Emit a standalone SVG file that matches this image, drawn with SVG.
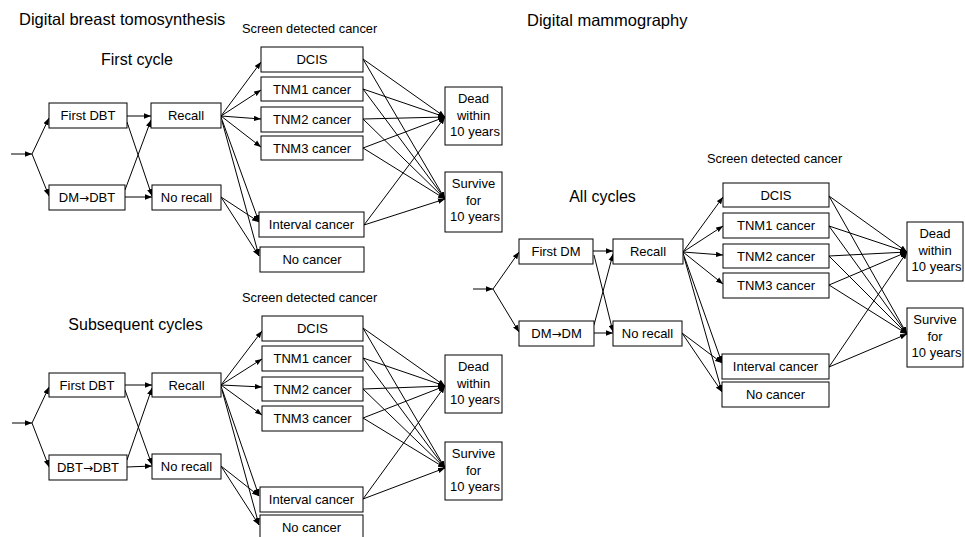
<svg xmlns="http://www.w3.org/2000/svg" width="965" height="537" viewBox="0 0 965 537">
<defs>
<style>
text{font-family:"Liberation Sans",Arial,sans-serif;fill:#000}
.t{font-size:16.5px}
.s{font-size:16px;text-anchor:middle}
.h{font-size:12.8px}
.b{font-size:13px;text-anchor:middle}
.ar{font-family:"DejaVu Sans",sans-serif;font-size:12px}
rect{fill:#fff;stroke:#000;stroke-width:1}
.c line{stroke:#000;stroke-width:1;marker-end:url(#ah)}
</style>
<marker id="ah" markerWidth="8" markerHeight="6" refX="7" refY="3" orient="auto" markerUnits="userSpaceOnUse"><path d="M0,0.3 L7,3 L0,5.7 z" fill="#000"/></marker>
</defs>
<rect x="0" y="0" width="965" height="537" style="stroke:none"/>

<text class="t" x="19" y="25">Digital breast tomosynthesis</text>
<text class="t" x="527" y="26">Digital mammography</text>
<text class="s" x="137" y="65">First cycle</text>
<text class="s" x="135.5" y="330">Subsequent cycles</text>
<text class="s" x="602.5" y="202">All cycles</text>
<text class="h" x="242" y="33">Screen detected cancer</text>
<text class="h" x="242" y="302">Screen detected cancer</text>
<text class="h" x="707" y="163">Screen detected cancer</text>

<g class="c" id="connectors">
<!-- Panel A -->
<line x1="11" y1="154" x2="32" y2="154"/>
<line x1="32" y1="154" x2="49" y2="118"/>
<line x1="32" y1="154" x2="49" y2="196"/>
<line x1="127" y1="116" x2="151" y2="116"/>
<line x1="127" y1="122" x2="152" y2="196"/>
<line x1="125" y1="190" x2="151" y2="120"/>
<line x1="125" y1="197" x2="152" y2="197"/>
<line x1="221" y1="116" x2="261" y2="62"/>
<line x1="221" y1="116" x2="261" y2="90"/>
<line x1="221" y1="116" x2="261" y2="119"/>
<line x1="221" y1="116" x2="261" y2="147"/>
<line x1="221" y1="117" x2="259" y2="222"/>
<line x1="222" y1="121" x2="259" y2="256"/>
<line x1="221" y1="197" x2="259" y2="222"/>
<line x1="221" y1="197" x2="259" y2="256"/>
<line x1="363" y1="59" x2="445" y2="117"/>
<line x1="363" y1="59" x2="445" y2="199"/>
<line x1="363" y1="89" x2="445" y2="117"/>
<line x1="363" y1="89" x2="445" y2="199"/>
<line x1="363" y1="119" x2="445" y2="117"/>
<line x1="363" y1="119" x2="445" y2="199"/>
<line x1="363" y1="148" x2="445" y2="117"/>
<line x1="363" y1="148" x2="445" y2="199"/>
<line x1="364" y1="225" x2="445" y2="117"/>
<line x1="364" y1="225" x2="445" y2="199"/>
<!-- Panel B -->
<line x1="12" y1="423" x2="32" y2="423"/>
<line x1="32" y1="423" x2="49" y2="387"/>
<line x1="32" y1="423" x2="49" y2="467"/>
<line x1="125" y1="385" x2="152" y2="385"/>
<line x1="125" y1="390" x2="152" y2="465"/>
<line x1="127" y1="460" x2="152" y2="388"/>
<line x1="127" y1="467" x2="152" y2="466"/>
<line x1="221" y1="385" x2="262" y2="331"/>
<line x1="221" y1="385" x2="262" y2="359"/>
<line x1="221" y1="385" x2="262" y2="387"/>
<line x1="221" y1="385" x2="262" y2="415"/>
<line x1="221" y1="386" x2="259" y2="496"/>
<line x1="222" y1="390" x2="259" y2="525"/>
<line x1="221" y1="466" x2="259" y2="496"/>
<line x1="221" y1="466" x2="259" y2="525"/>
<line x1="363" y1="328" x2="445" y2="386"/>
<line x1="363" y1="328" x2="445" y2="468"/>
<line x1="363" y1="358" x2="445" y2="386"/>
<line x1="363" y1="358" x2="445" y2="468"/>
<line x1="363" y1="389" x2="445" y2="386"/>
<line x1="363" y1="389" x2="445" y2="468"/>
<line x1="363" y1="418" x2="445" y2="386"/>
<line x1="363" y1="418" x2="445" y2="468"/>
<line x1="363" y1="499" x2="445" y2="386"/>
<line x1="363" y1="499" x2="445" y2="468"/>
<!-- Panel C -->
<line x1="473" y1="289" x2="493" y2="289"/>
<line x1="493" y1="289" x2="519" y2="252"/>
<line x1="493" y1="289" x2="519" y2="332"/>
<line x1="593" y1="251" x2="613" y2="251"/>
<line x1="594" y1="255" x2="613" y2="332"/>
<line x1="594" y1="325" x2="613" y2="254"/>
<line x1="594" y1="333" x2="613" y2="333"/>
<line x1="683" y1="252" x2="723" y2="197"/>
<line x1="683" y1="252" x2="723" y2="226"/>
<line x1="683" y1="252" x2="723" y2="255"/>
<line x1="683" y1="252" x2="723" y2="284"/>
<line x1="683" y1="253" x2="722" y2="363"/>
<line x1="684" y1="257" x2="722" y2="392"/>
<line x1="682" y1="333" x2="722" y2="363"/>
<line x1="682" y1="333" x2="722" y2="392"/>
<line x1="829" y1="196" x2="907" y2="252"/>
<line x1="829" y1="196" x2="907" y2="334"/>
<line x1="829" y1="226" x2="907" y2="252"/>
<line x1="829" y1="226" x2="907" y2="334"/>
<line x1="829" y1="256" x2="907" y2="252"/>
<line x1="829" y1="256" x2="907" y2="334"/>
<line x1="829" y1="285" x2="907" y2="252"/>
<line x1="829" y1="285" x2="907" y2="334"/>
<line x1="829" y1="367" x2="907" y2="252"/>
<line x1="829" y1="367" x2="907" y2="334"/>
</g>

<!-- Panel A nodes -->
<g id="a-first-dbt"><rect x="49" y="103" width="78" height="25"/><text class="b" x="88" y="120">First DBT</text></g>
<g id="a-recall"><rect x="151" y="103" width="70" height="25"/><text class="b" x="186" y="120">Recall</text></g>
<g id="a-dm-dbt"><rect x="49" y="185" width="76" height="25"/><text class="b" x="87" y="202">DM<tspan class="ar">→</tspan>DBT</text></g>
<g id="a-no-recall"><rect x="152" y="185" width="69" height="25"/><text class="b" x="186.5" y="202">No recall</text></g>
<g id="a-dcis"><rect x="261" y="47" width="102" height="25"/><text class="b" x="312" y="64">DCIS</text></g>
<g id="a-tnm1"><rect x="261" y="77" width="102" height="24"/><text class="b" x="312" y="94">TNM1 cancer</text></g>
<g id="a-tnm2"><rect x="261" y="107" width="102" height="25"/><text class="b" x="312" y="124">TNM2 cancer</text></g>
<g id="a-tnm3"><rect x="261" y="136" width="102" height="24"/><text class="b" x="312" y="153">TNM3 cancer</text></g>
<g id="a-interval"><rect x="259" y="212" width="105" height="25"/><text class="b" x="311.5" y="229">Interval cancer</text></g>
<g id="a-no-cancer"><rect x="260" y="247" width="104" height="25"/><text class="b" x="312" y="264">No cancer</text></g>
<g id="a-dead"><rect x="445" y="87" width="57" height="58"/><text class="b" x="473.5" y="103">Dead<tspan x="473.5" dy="16.5">within</tspan><tspan x="475" dy="16.5">10 years</tspan></text></g>
<g id="a-survive"><rect x="445" y="172" width="57" height="60"/><text class="b" x="473.5" y="188">Survive<tspan x="473.5" dy="16.5">for</tspan><tspan x="475" dy="16.5">10 years</tspan></text></g>

<!-- Panel B nodes -->
<g id="b-first-dbt"><rect x="49" y="373" width="76" height="24"/><text class="b" x="87" y="390">First DBT</text></g>
<g id="b-recall"><rect x="152" y="373" width="69" height="24"/><text class="b" x="186.5" y="390">Recall</text></g>
<g id="b-dbt-dbt"><rect x="49" y="455" width="78" height="25"/><text class="b" x="88" y="472">DBT<tspan class="ar">→</tspan>DBT</text></g>
<g id="b-no-recall"><rect x="152" y="454" width="69" height="25"/><text class="b" x="186.5" y="471">No recall</text></g>
<g id="b-dcis"><rect x="262" y="316" width="101" height="25"/><text class="b" x="312.5" y="333">DCIS</text></g>
<g id="b-tnm1"><rect x="262" y="346" width="101" height="25"/><text class="b" x="312.5" y="363">TNM1 cancer</text></g>
<g id="b-tnm2"><rect x="262" y="377" width="101" height="24"/><text class="b" x="312.5" y="394">TNM2 cancer</text></g>
<g id="b-tnm3"><rect x="262" y="406" width="101" height="25"/><text class="b" x="312.5" y="423">TNM3 cancer</text></g>
<g id="b-interval"><rect x="260" y="487" width="103" height="25"/><text class="b" x="311.5" y="504">Interval cancer</text></g>
<g id="b-no-cancer"><rect x="260" y="515" width="103" height="25"/><text class="b" x="311.5" y="532">No cancer</text></g>
<g id="b-dead"><rect x="445" y="355" width="57" height="58"/><text class="b" x="473.5" y="371">Dead<tspan x="473.5" dy="16.5">within</tspan><tspan x="475" dy="16.5">10 years</tspan></text></g>
<g id="b-survive"><rect x="445" y="442" width="57" height="58"/><text class="b" x="473.5" y="458">Survive<tspan x="473.5" dy="16.5">for</tspan><tspan x="475" dy="16.5">10 years</tspan></text></g>

<!-- Panel C nodes -->
<g id="c-first-dm"><rect x="519" y="239" width="74" height="25"/><text class="b" x="556" y="256">First DM</text></g>
<g id="c-recall"><rect x="613" y="239" width="70" height="25"/><text class="b" x="648" y="256">Recall</text></g>
<g id="c-dm-dm"><rect x="519" y="321" width="75" height="25"/><text class="b" x="556.5" y="338">DM<tspan class="ar">→</tspan>DM</text></g>
<g id="c-no-recall"><rect x="613" y="321" width="69" height="25"/><text class="b" x="647.5" y="338">No recall</text></g>
<g id="c-dcis"><rect x="723" y="183" width="106" height="24"/><text class="b" x="776" y="200">DCIS</text></g>
<g id="c-tnm1"><rect x="723" y="213" width="106" height="25"/><text class="b" x="776" y="230">TNM1 cancer</text></g>
<g id="c-tnm2"><rect x="723" y="244" width="106" height="24"/><text class="b" x="776" y="261">TNM2 cancer</text></g>
<g id="c-tnm3"><rect x="723" y="273" width="106" height="25"/><text class="b" x="776" y="290">TNM3 cancer</text></g>
<g id="c-interval"><rect x="722" y="354" width="107" height="25"/><text class="b" x="775.5" y="371">Interval cancer</text></g>
<g id="c-no-cancer"><rect x="722" y="382" width="107" height="25"/><text class="b" x="775.5" y="399">No cancer</text></g>
<g id="c-dead"><rect x="907" y="222" width="56" height="59"/><text class="b" x="935" y="238">Dead<tspan x="935" dy="16.5">within</tspan><tspan x="936.5" dy="16.5">10 years</tspan></text></g>
<g id="c-survive"><rect x="907" y="308" width="56" height="59"/><text class="b" x="935" y="324">Survive<tspan x="935" dy="16.5">for</tspan><tspan x="936.5" dy="16.5">10 years</tspan></text></g>
</svg>
